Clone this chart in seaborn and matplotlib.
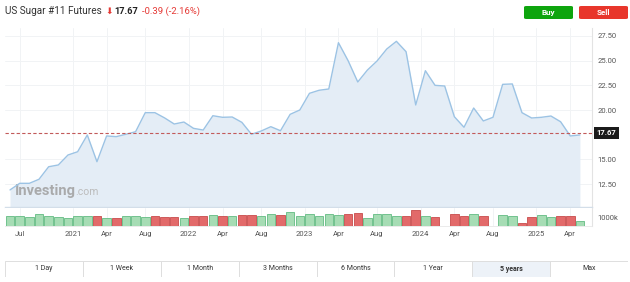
import numpy as np
import pandas as pd
import matplotlib
matplotlib.use("Agg")
import matplotlib.pyplot as plt
import matplotlib.transforms as mtransforms
from matplotlib.patches import FancyBboxPatch, Rectangle
import seaborn as sns

# ---------------- data ----------------
months = pd.date_range("2020-06-01", periods=60, freq="MS")
price = [11.90, 12.57, 12.57, 12.98, 14.25, 14.43, 15.44, 15.77, 17.47, 14.76,
         17.37, 17.30, 17.54, 17.80, 19.73, 19.73, 19.20, 18.58, 18.78, 18.14,
         17.97, 19.42, 19.26, 19.29, 18.75, 17.54, 17.87, 18.31, 17.90, 19.56,
         20.00, 21.69, 22.00, 22.13, 26.82, 25.00, 22.84, 24.05, 24.97, 26.18,
         26.96, 25.91, 20.51, 23.98, 22.50, 22.43, 19.32, 18.25, 20.20, 18.89,
         19.26, 22.60, 22.64, 19.73, 19.19, 19.26, 19.39, 18.81, 17.37, 17.47]
volume_k = [1260, 1210, 1160, 1510, 1310, 1110, 1010, 1210, 1260, 1260,
            1060, 1060, 1310, 1210, 1160, 1310, 1110, 1160, 960, 1210,
            1210, 1410, 1210, 1210, 1410, 1410, 1210, 1460, 1410, 1710,
            1210, 1460, 1260, 1560, 1410, 1560, 1610, 1060, 1460, 1460,
            1260, 1310, 1970, 1210, 1160, 50, 1460, 1260, 1460, 1260,
            50, 1360, 1210, 400, 1160, 1360, 1110, 1260, 1310, 600]
direction = ["up", "up", "up", "up", "up", "up", "up", "up", "up", "down",
             "up", "down", "up", "up", "up", "down", "down", "down", "up", "down",
             "down", "up", "down", "up", "down", "down", "up", "up", "down", "up",
             "up", "up", "up", "up", "up", "down", "down", "up", "up", "up",
             "up", "down", "down", "up", "down", "down", "down", "down", "up", "down",
             "up", "up", "up", "down", "down", "up", "up", "down", "down", "up"]
tick_months = ["2020-07", "2021-01", "2021-04", "2021-08", "2022-01", "2022-04",
               "2022-08", "2023-01", "2023-04", "2023-08", "2024-01", "2024-04",
               "2024-08", "2025-01", "2025-04"]
tick_labels = ["Jul", "2021", "Apr", "Aug", "2022", "Apr", "Aug", "2023", "Apr",
               "Aug", "2024", "Apr", "Aug", "2025", "Apr"]
price_ticks = [12.5, 15.0, 20.0, 22.5, 25.0, 27.5]
vol_ticks = [1000]
vol_tick_labels = ["1000k"]
last_price = 17.67
title = "US Sugar #11 Futures"
change_txt = "-0.39 (-2.16%)"
range_buttons = ["1 Day", "1 Week", "1 Month", "3 Months", "6 Months", "1 Year", "5 years", "Max"]
active_button = "5 years"

df = pd.DataFrame({"i": np.arange(len(months)), "date": months,
                   "price": price, "volume": volume_k, "dir": direction})

# tick positions (year labels sit half a month before January)
tick_pos = []
for m in tick_months:
    idx = int(np.where(months == pd.Timestamp(m + "-01"))[0][0])
    tick_pos.append(idx - 0.5 if m.endswith("-01") else idx)

# ---------------- style ----------------
sns.set_theme(style="white")
plt.rcParams["font.family"] = ["Roboto", "DejaVu Sans"]

W, H = 630, 282
fig = plt.figure(figsize=(W / 100, H / 100), dpi=100)
fig.patch.set_facecolor("white")

def fx(px):
    return px / W

def fy(py):
    return 1 - py / H

line_c = "#9cc3e4"
fill_c = "#e4edf6"
grid_c = "#f1f3f5"
green_f, green_e = "#a6dcb4", "#62bb82"
red_f, red_e = "#e26a6a", "#c84b4b"
tick_c = "#555555"

YMIN, YMAX = 10.17, 28.31
XMIN, XMAX = -0.52, 60.25

# ---------------- price panel ----------------
ax = fig.add_axes([fx(5), fy(207), fx(592) - fx(5), fy(28) - fy(207)])
ax.fill_between(df["i"], df["price"], YMIN, color=fill_c, lw=0, zorder=1)
sns.lineplot(data=df, x="i", y="price", ax=ax, color=line_c, lw=1.0, zorder=3)
ax.set_xlim(XMIN, XMAX)
ax.set_ylim(YMIN, YMAX)
ax.set_xlabel("")
ax.set_ylabel("")
ax.set_xticks(tick_pos)
ax.set_xticklabels([])
ax.set_yticks(price_ticks)
ax.set_yticklabels([f"{v:.2f}" for v in price_ticks])
ax.yaxis.tick_right()
ax.tick_params(axis="y", length=0, pad=4, labelsize=5.5, labelcolor=tick_c)
ax.tick_params(axis="x", length=0)
ax.grid(True, color=grid_c, lw=0.7, zorder=0)
ax.set_axisbelow(True)
for s in ["top", "left"]:
    ax.spines[s].set_visible(False)
ax.spines["right"].set_color("#e3e3e3")
ax.spines["right"].set_linewidth(0.8)
ax.spines["bottom"].set_color("#d3dee9")
ax.spines["bottom"].set_linewidth(1.0)

# last price line and label
ax.axhline(last_price, color="#c25a5a", lw=0.8, ls=(0, (3, 2)), zorder=4)
trans = mtransforms.blended_transform_factory(ax.transAxes, ax.transData)
ax.text(1.008, last_price, f"{last_price:.2f}", transform=trans, ha="left", va="center",
        color="white", fontsize=5.5, fontweight="bold", zorder=6, clip_on=False,
        bbox=dict(boxstyle="square,pad=0.3", fc="#1b1b1b", ec="none"))

# watermark
t1 = ax.text(0.016, 0.05, "Investing", transform=ax.transAxes, ha="left", va="bottom",
             fontsize=10.5, fontweight="bold", color="#a3a3a3", alpha=0.9, zorder=2)
ax.annotate(".com", xy=(1.0, 0.08), xycoords=t1, ha="left", va="bottom",
            fontsize=7.5, color="#bcbcbc", zorder=2)

# ---------------- volume panel ----------------
axv = fig.add_axes([fx(5), fy(226), fx(592) - fx(5), fy(208) - fy(226)])
sns.barplot(data=df, x="i", y="volume", hue="dir", native_scale=True, dodge=False,
            palette={"up": green_f, "down": red_f}, saturation=1, width=0.88,
            legend=False, ax=axv, zorder=3)
for p in axv.patches:
    fc = matplotlib.colors.to_hex(p.get_facecolor())
    p.set_edgecolor(green_e if fc == matplotlib.colors.to_hex(green_f) else red_e)
    p.set_linewidth(0.6)
axv.set_xlim(XMIN, XMAX)
axv.set_ylim(0, 2250)
axv.set_xlabel("")
axv.set_ylabel("")
axv.set_xticks(tick_pos)
axv.set_xticklabels(tick_labels)
axv.set_yticks(vol_ticks)
axv.set_yticklabels(vol_tick_labels)
axv.yaxis.tick_right()
axv.tick_params(axis="y", length=0, pad=4, labelsize=5.5, labelcolor=tick_c)
axv.tick_params(axis="x", length=0, pad=3.8, labelsize=5.5, labelcolor=tick_c)
axv.grid(True, axis="x", color=grid_c, lw=0.7, zorder=0)
axv.set_axisbelow(True)
for s in ["top", "left"]:
    axv.spines[s].set_visible(False)
axv.spines["right"].set_color("#e3e3e3")
axv.spines["right"].set_linewidth(0.8)
axv.spines["bottom"].set_color("#e8e8e8")
axv.spines["bottom"].set_linewidth(0.6)

# ---------------- header ----------------
fig.text(fx(5), fy(11), title, ha="left", va="center", fontsize=7.2, color="#333333")
fig.text(fx(105), fy(11), "⬇", ha="left", va="center", fontsize=6.5, color="#e53935",
         family=["DejaVu Sans"])
fig.text(fx(114), fy(11), f"{last_price:.2f}", ha="left", va="center", fontsize=6.6,
         fontweight="bold", color="#222222")
fig.text(fx(142), fy(11), change_txt, ha="left", va="center", fontsize=6.8,
         color="#e53935")

for x0, x1, col, lab in [(524, 573, "#0ea50e", "Buy"), (579, 628, "#e8362b", "Sell")]:
    fig.patches.append(FancyBboxPatch((fx(x0), fy(19)), fx(x1) - fx(x0), fy(6) - fy(19),
                                      boxstyle="round,pad=0,rounding_size=0.004",
                                      transform=fig.transFigure, fc=col, ec="none"))
    fig.text((fx(x0) + fx(x1)) / 2, fy(12.5), lab, ha="center", va="center",
             fontsize=5.8, fontweight="bold", color="white")

# ---------------- range buttons ----------------
axb = fig.add_axes([fx(5), fy(277), fx(628) - fx(5), fy(261) - fy(277)])
axb.set_xlim(0, len(range_buttons))
axb.set_ylim(0, 1)
axb.axis("off")
for k, lab in enumerate(range_buttons):
    active = lab == active_button
    axb.add_patch(Rectangle((k, 0), 1, 1, fc="#edf2f8" if active else "white",
                            ec="#dedede", lw=0.7))
    axb.text(k + 0.5, 0.5, lab, ha="center", va="center", fontsize=5.0,
             color="#333333", fontweight="bold" if active else "normal")

fig.savefig("out.png", dpi=100, facecolor="white")
